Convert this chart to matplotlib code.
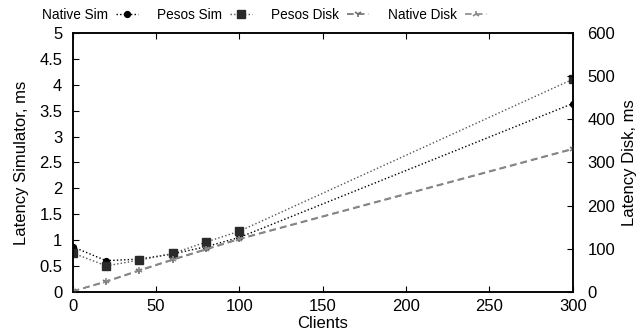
import matplotlib
matplotlib.use("Agg")
import matplotlib.pyplot as plt
from matplotlib import font_manager

plt.rcParams['font.family'] = ['Liberation Sans', 'DejaVu Sans']

clients = [0, 20, 40, 60, 80, 100, 300]
native_sim = [0.87, 0.60, 0.63, 0.73, 0.87, 1.05, 3.64]
pesos_sim = [0.75, 0.50, 0.61, 0.74, 0.96, 1.17, 4.11]
pesos_disk = [1, 23, 49, 74, 98, 122, 331]
native_disk = [1, 24, 50, 75, 99, 123, 332]

xticks = [0, 50, 100, 150, 200, 250, 300]
yticks_left = [0, 0.5, 1, 1.5, 2, 2.5, 3, 3.5, 4, 4.5, 5]
ytick_left_labels = ['0', '0.5', '1', '1.5', '2', '2.5', '3', '3.5', '4', '4.5', '5']
yticks_right = [0, 100, 200, 300, 400, 500, 600]

names = {f.name for f in font_manager.fontManager.ttflist}
legend_family = ['Liberation Sans Narrow', 'Liberation Sans'] if 'Liberation Sans Narrow' in names else ['Liberation Sans']
legend_size = 11.5 if 'Liberation Sans Narrow' in names else 9.8

fs = 12
fig = plt.figure(figsize=(6.44, 3.35), dpi=100)
ax = fig.add_axes([0.1129, 0.1293, 0.8893 - 0.1129, 0.9006 - 0.1293])
ax2 = ax.twinx()

dot = (0, (1, 1.6))
l1, = ax.plot(clients, native_sim, linestyle=dot, color='black', lw=1,
              marker='o', ms=4.2, mfc='black', mec='black', label='Native Sim')
l2, = ax.plot(clients, pesos_sim, linestyle=dot, color='#555555', lw=1,
              marker='s', ms=5.2, mfc='#2a2a2a', mec='#2a2a2a', label='Pesos Sim')
l3, = ax2.plot(clients, pesos_disk, linestyle=(0, (4, 2.5)), color='#6e6e6e', lw=1.2,
               marker='1', ms=5, mew=1.2, mec='#6e6e6e', label='Pesos Disk')
l4, = ax2.plot(clients, native_disk, linestyle=(0, (4, 2.5)), color='#8a8a8a', lw=1.2,
               marker='2', ms=5, mew=1.2, mec='#8a8a8a', label='Native Disk')

ax.set_xlim(0, 300)
ax.set_ylim(0, 5)
ax2.set_ylim(0, 600)
ax.set_xticks(xticks)
ax.set_yticks(yticks_left)
ax.set_yticklabels(ytick_left_labels)
ax2.set_yticks(yticks_right)

for a in (ax, ax2):
    for s in a.spines.values():
        s.set_linewidth(1.1)
ax.tick_params(axis='x', direction='in', length=4, width=0.8, top=True, pad=5, labelsize=fs)
ax.tick_params(axis='y', direction='in', length=4, width=0.8, right=False, pad=7.5, labelsize=fs)
ax2.tick_params(axis='y', direction='in', length=4, width=0.8, pad=10.5, labelsize=fs)

ax.set_xlabel('Clients', fontsize=fs, labelpad=1.5)
ax.set_ylabel('Latency Simulator, ms', fontsize=fs, labelpad=7)
ax2.set_ylabel('Latency Disk, ms', fontsize=fs, labelpad=5)

fig.legend(handles=[l1, l2, l3, l4], loc='center left', bbox_to_anchor=(42 / 644, 0.955),
           ncol=4, frameon=False, markerfirst=False,
           prop={'family': legend_family, 'size': legend_size},
           handlelength=1.6, columnspacing=1.4, handletextpad=0.6,
           borderaxespad=0, borderpad=0)

fig.savefig('out.png', dpi=100)
